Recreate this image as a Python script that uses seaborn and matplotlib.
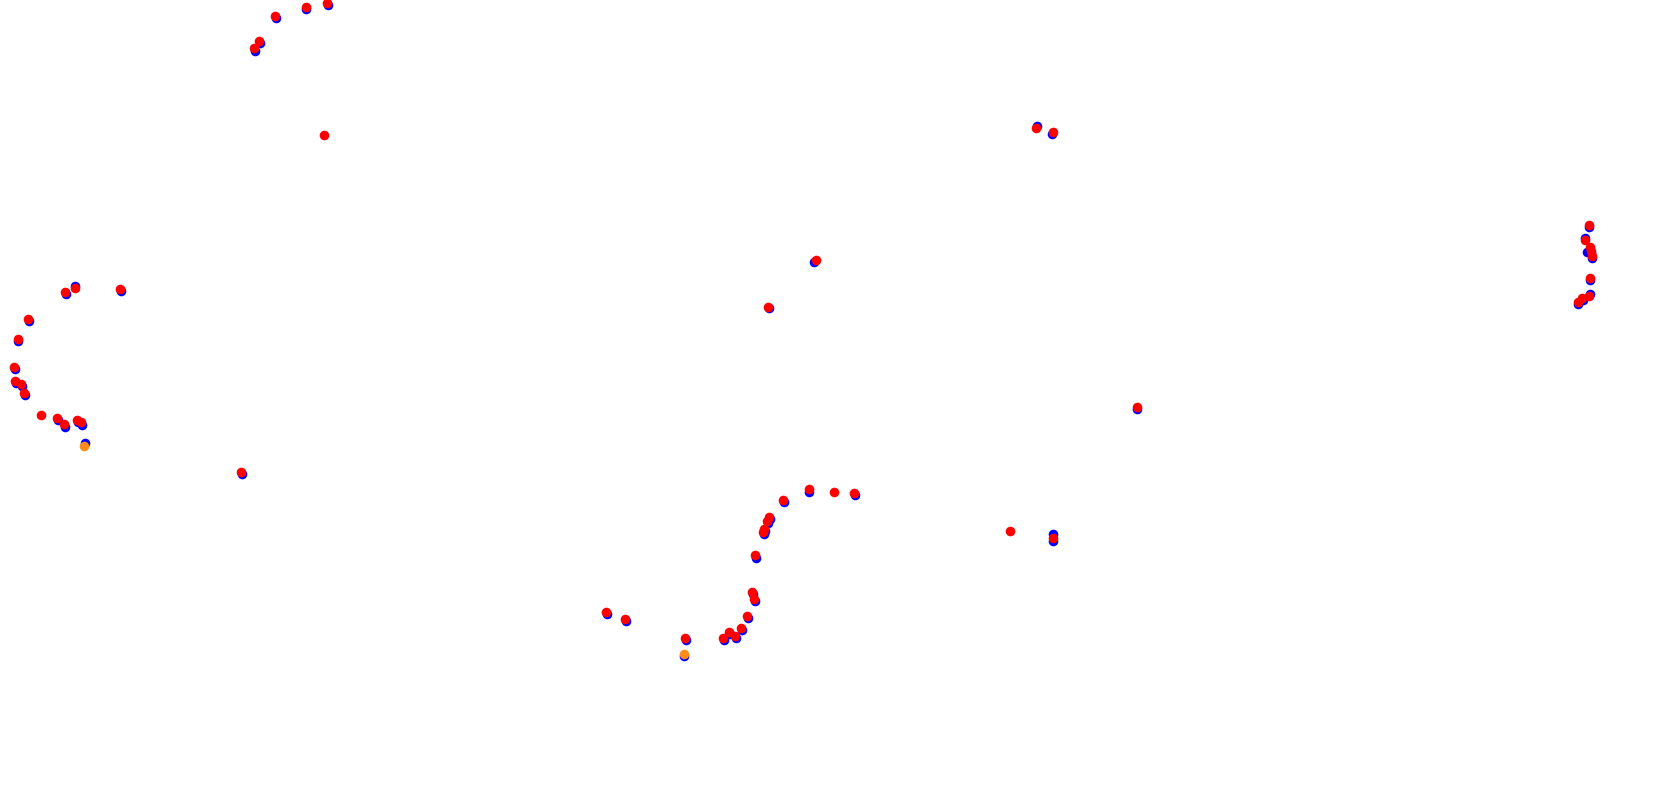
import matplotlib
matplotlib.use("Agg")
import matplotlib.pyplot as plt
import pandas as pd
import seaborn as sns

# point positions (pixel grid 1680 x 805, y downwards)
red_x = [65, 75, 120, 28, 18, 14, 15, 21, 24, 41, 57, 64, 77, 81,
         254, 259, 275, 306, 327, 324, 241,
         606, 625, 685, 723, 729, 735, 741, 747, 752, 754, 755, 763, 764, 767, 769,
         783, 809, 834, 854, 768, 816,
         1010, 1053, 1036, 1053, 1137,
         1589, 1585, 1590, 1591, 1592, 1590, 1589, 1582, 1578]
red_y = [292, 288, 289, 319, 339, 367, 381, 384, 393, 415, 418, 424, 420, 422,
         48, 41, 16, 7, 3, 135, 472,
         612, 619, 638, 638, 632, 636, 628, 616, 592, 599, 555, 532, 529, 521, 517,
         500, 489, 492, 493, 307, 260,
         531, 538, 128, 132, 407,
         225, 240, 247, 251, 256, 278, 296, 298, 302]

blue_x = [66, 75, 121, 29, 18, 15, 16, 22, 25, 58, 65, 78, 82, 85,
          255, 260, 276, 306, 328, 242,
          607, 626, 686, 684, 724, 730, 736, 742, 748, 753, 755, 756, 764, 765, 768, 770,
          784, 809, 855, 769, 814,
          1053, 1053, 1037, 1052, 1137,
          1589, 1585, 1587, 1591, 1592, 1590, 1590, 1583, 1578]
blue_y = [294, 286, 291, 321, 341, 369, 383, 386, 395, 420, 427, 422, 425, 443,
          51, 43, 18, 9, 5, 474,
          614, 621, 640, 656, 640, 634, 638, 630, 618, 594, 601, 558, 534, 531, 523, 519,
          502, 492, 495, 308, 262,
          534, 541, 126, 134, 409,
          227, 238, 252, 253, 258, 280, 294, 300, 304]

orange_x = [84, 684]
orange_y = [446, 654]

df_red = pd.DataFrame({"x": red_x, "y": red_y})
df_blue = pd.DataFrame({"x": blue_x, "y": blue_y})
df_orange = pd.DataFrame({"x": orange_x, "y": orange_y})

sns.set_style("white")
fig = plt.figure(figsize=(16.8, 8.05), dpi=100)
ax = fig.add_axes([0, 0, 1, 1])

sns.scatterplot(data=df_blue, x="x", y="y", color="#0000ff", s=48, linewidth=0, ax=ax)
sns.scatterplot(data=df_orange, x="x", y="y", color="#ff8c1a", s=48, linewidth=0, ax=ax)
sns.scatterplot(data=df_red, x="x", y="y", color="#ff0000", s=48, linewidth=0, ax=ax)

ax.set_xlim(0, 1680)
ax.set_ylim(805, 0)
ax.axis("off")

fig.savefig("out.png", dpi=100, facecolor="white")
